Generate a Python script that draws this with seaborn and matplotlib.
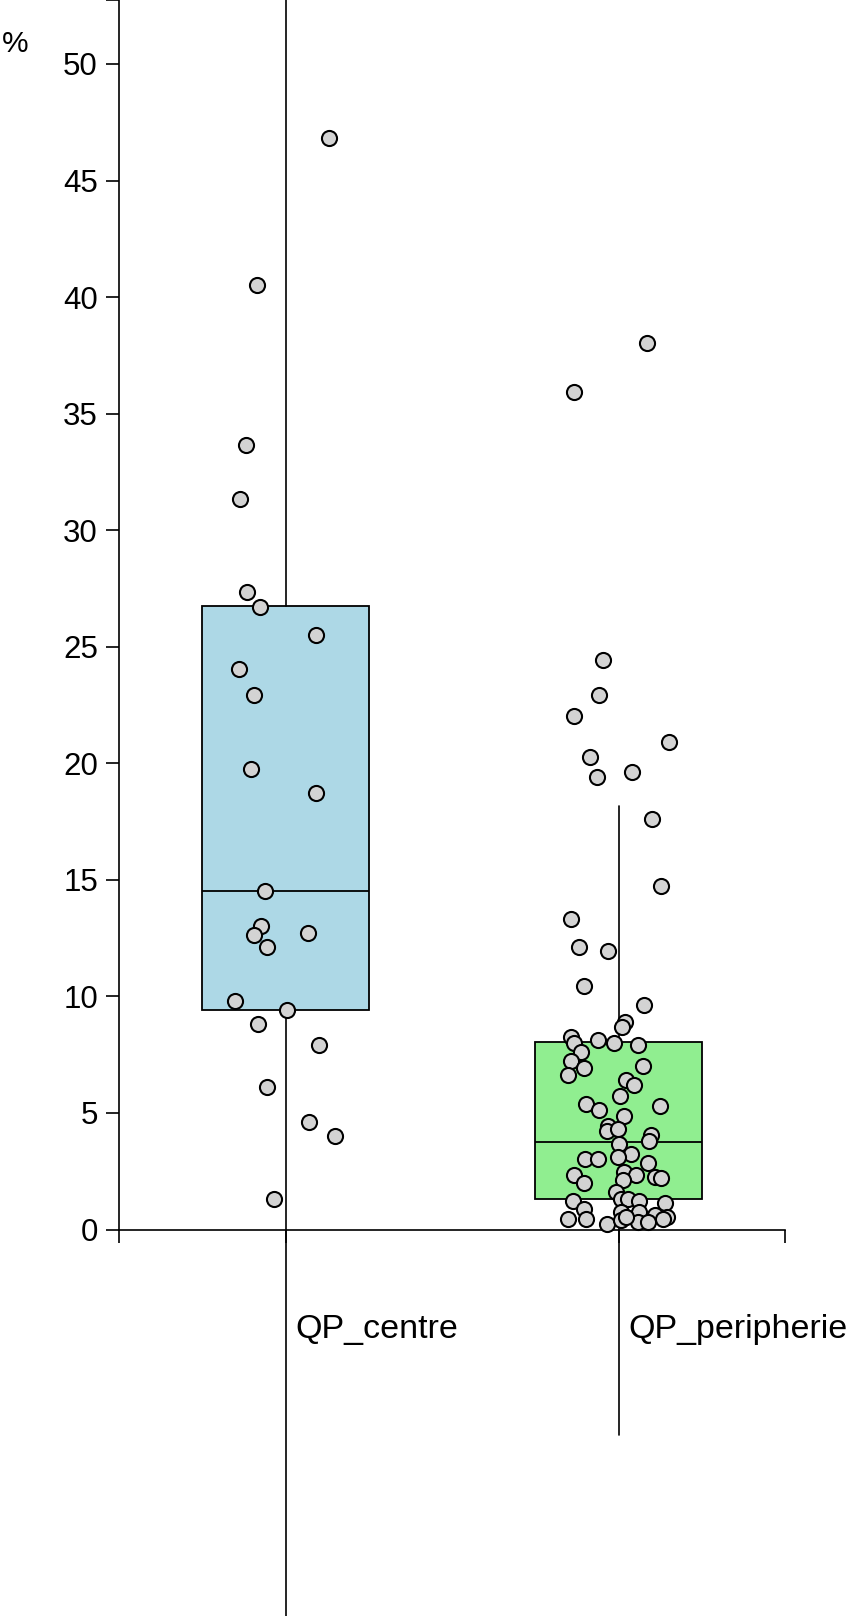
import numpy as np
import pandas as pd
import matplotlib
matplotlib.use("Agg")
import matplotlib.pyplot as plt
import matplotlib.transforms as mtransforms
import seaborn as sns

# ---------------- data ----------------
categories = ["QP_centre", "QP_peripherie"]
box_colors = ["#ADD8E6", "#90EE90"]

# box statistics (q1, median, q3)
q1_vals = [9.42, 1.30]
median_vals = [14.54, 3.77]
q3_vals = [26.75, 8.04]

centre_values = [46.84, 40.53, 33.64, 31.35, 27.36, 26.72, 25.52, 24.05, 22.95,
                 19.74, 18.73, 14.54, 13.03, 12.62, 12.73, 12.13, 9.82, 9.42,
                 8.83, 7.93, 6.10, 4.61, 4.02, 1.33]
centre_jitter = [0.132, -0.085, -0.119, -0.137, -0.116, -0.078, 0.093, -0.140,
                 -0.095, -0.103, 0.091, -0.063, -0.075, -0.095, 0.067, -0.055,
                 -0.153, 0.005, -0.083, 0.101, -0.056, 0.070, 0.150, -0.035]

peripherie_values = [38.03, 35.93, 24.43, 22.94, 22.01, 20.92, 20.26, 19.43, 19.63,
                     17.63, 14.74, 13.33, 12.13, 11.93, 10.43, 9.63, 8.90, 8.68,
                     8.28, 8.00, 8.14, 8.00, 7.90, 7.60, 7.23, 6.91, 6.61, 7.01,
                     6.43, 6.20, 5.71, 5.40, 5.12, 5.32, 4.85, 4.43, 4.23, 4.33,
                     4.04, 3.80, 3.67, 3.23, 3.11, 3.02, 3.02, 2.86, 2.33, 2.01,
                     2.45, 2.33, 2.24, 2.23, 2.11, 1.63, 1.33, 1.29, 1.24, 1.24,
                     1.14, 0.86, 0.73, 0.73, 0.61, 0.52, 0.43, 0.43, 0.23, 0.40,
                     0.33, 0.33, 0.47, 0.54]
peripherie_jitter = [0.087, -0.134, -0.047, -0.058, -0.134, 0.152, -0.087, -0.065,
                     0.041, 0.100, 0.128, -0.143, -0.119, -0.033, -0.105, 0.078,
                     0.021, 0.011, -0.144, -0.134, -0.063, -0.015, 0.059, -0.112,
                     -0.142, -0.104, -0.152, 0.075, 0.023, 0.048, 0.005, -0.097,
                     -0.058, 0.124, 0.018, -0.032, -0.034, -0.002, 0.097, 0.093,
                     0.003, 0.039, -0.001, -0.102, -0.062, 0.089, -0.135, -0.104,
                     0.018, 0.054, 0.109, 0.127, 0.014, -0.007, 0.008, 0.030,
                     0.063, -0.136, 0.139, -0.104, 0.007, 0.063, 0.111, 0.146,
                     -0.152, -0.097, -0.035, 0.008, 0.059, 0.089, 0.134, 0.023]

y_ticks = [0, 5, 10, 15, 20, 25, 30, 35, 40, 45, 50]
y_label = "%"

# ---------------- figure ----------------
sns.set_theme(style="white")
plt.rcParams["font.family"] = ["Liberation Sans", "DejaVu Sans"]

W, H = 847, 1616
fig = plt.figure(figsize=(W / 100, H / 100), dpi=100)
ax_left, ax_right = 119, 785
ax = fig.add_axes([ax_left / W, 0, (ax_right - ax_left) / W, 1])
ax.set_facecolor("none")

# box stats with whiskers at 1.5 IQR
stats = []
for i, c in enumerate(categories):
    iqr = q3_vals[i] - q1_vals[i]
    stats.append(dict(label=c, q1=q1_vals[i], med=median_vals[i], q3=q3_vals[i],
                      whislo=q1_vals[i] - 1.5 * iqr, whishi=q3_vals[i] + 1.5 * iqr,
                      fliers=[]))
y_top = max(s["whishi"] for s in stats)

box_lw = 1.3
axis_lw = 1.2
bp = ax.bxp(stats, positions=[0, 1], widths=0.5, showcaps=False, showfliers=False,
            patch_artist=True, manage_ticks=False,
            boxprops=dict(linewidth=box_lw, edgecolor="black"),
            whiskerprops=dict(linewidth=axis_lw, color="black"),
            medianprops=dict(linewidth=box_lw, color="black"))
for patch, col in zip(bp["boxes"], box_colors):
    patch.set_facecolor(col)
    patch.set_zorder(2)
for l in bp["whiskers"] + bp["medians"]:
    l.set_zorder(2)

# points
df = pd.DataFrame({
    "group": [categories[0]] * len(centre_values) + [categories[1]] * len(peripherie_values),
    "value": centre_values + peripherie_values,
    "jitter": centre_jitter + peripherie_jitter,
})
df["x"] = df["group"].map({c: i for i, c in enumerate(categories)}) + df["jitter"]
sns.scatterplot(data=df, x="x", y="value", ax=ax, color="#D3D3D3",
                edgecolor="black", linewidth=1.5, s=118, zorder=5, legend=False)

# ---------------- axes styling ----------------
ax.set_xlim(-0.5, 1.5)
ax.set_ylim(-16.58, 52.69)
ax.set_xlabel("")
ax.set_ylabel("")
for s in ["top", "right"]:
    ax.spines[s].set_visible(False)
ax.spines["left"].set_bounds(0, y_top)
ax.spines["bottom"].set_position(("data", 0))
ax.spines["bottom"].set_bounds(-0.5, 1.5)
for s in ["left", "bottom"]:
    ax.spines[s].set_linewidth(axis_lw)
    ax.spines[s].set_color("black")
    ax.spines[s].set_zorder(1)

ax.set_yticks(y_ticks)
ax.set_yticklabels([str(t) for t in y_ticks])
ax.set_yticks([y_top], minor=True)
ax.set_xticks([0, 1])
ax.set_xticklabels(categories)
ax.set_xticks([-0.5, 1.5], minor=True)

ax.tick_params(axis="both", which="both", direction="out", length=9.2, width=axis_lw,
               color="black")
ax.tick_params(axis="y", which="major", labelsize=22.5, pad=6, labelcolor="black", left=True)
ax.tick_params(axis="x", which="major", labelsize=24.5, pad=69, labelcolor="black", bottom=True)
ax.tick_params(axis="y", which="minor", left=True)
ax.tick_params(axis="x", which="minor", bottom=True)
ax.grid(False)

offset = mtransforms.ScaledTranslation(10 / 100, 0, fig.dpi_scale_trans)
for lab in ax.get_xticklabels():
    lab.set_horizontalalignment("left")
    lab.set_verticalalignment("baseline")
    lab.set_transform(lab.get_transform() + offset)

fig.text(2 / W, 1 - 52.5 / H, y_label, ha="left", va="baseline", fontsize=21.5, color="black")

fig.savefig("out.png", dpi=100)
